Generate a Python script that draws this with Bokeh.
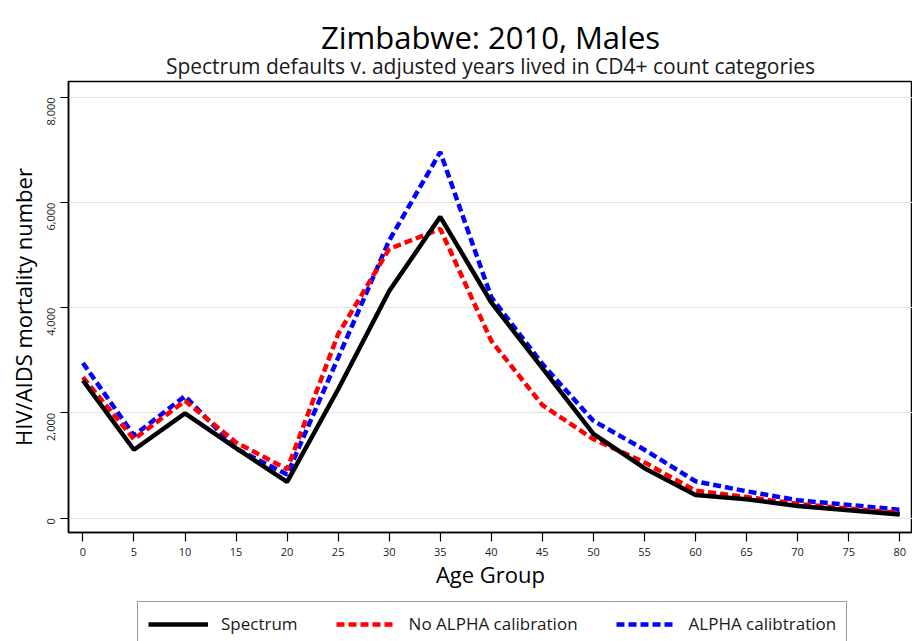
from bokeh.plotting import figure
from bokeh.layouts import column
from bokeh.models import (Range1d, FixedTicker, NumeralTickFormatter, Legend,
                          LegendItem, Title)
from bokeh.embed import file_html
from bokeh.resources import INLINE
import math

ages = [0, 5, 10, 15, 20, 25, 30, 35, 40, 45, 50, 55, 60, 65, 70, 75, 80]
spectrum = [2620, 1300, 1990, 1330, 690, 2450, 4320, 5730, 4100, 2850, 1600, 950, 440, 360, 230, 150, 70]
no_alpha = [2680, 1500, 2230, 1440, 930, 3500, 5120, 5500, 3370, 2150, 1500, 1060, 520, 400, 270, 180, 100]
alpha = [2950, 1570, 2320, 1320, 830, 3050, 5280, 6960, 4200, 2930, 1850, 1300, 700, 510, 340, 250, 160]
y_ticks = [0, 2000, 4000, 6000, 8000]
series_names = ["Spectrum", "No ALPHA calibration", "ALPHA calibtration"]

FONT = "Open Sans"

p = figure(width=912, height=600, output_backend="svg", toolbar_location=None,
           x_range=Range1d(-1.41, 81.25), y_range=Range1d(-274, 8303),
           min_border_left=68, min_border_right=0, min_border_top=81,
           min_border_bottom=68)

p.outline_line_color = "black"
p.outline_line_width = 1.5
p.background_fill_color = "white"
p.border_fill_color = "white"

# titles
sub = Title(text="Spectrum defaults v. adjusted years lived in CD4+ count categories",
            align="center", text_font=FONT, text_font_size="21px",
            text_font_style="normal", text_color="#1a1a1a", standoff=4)
main = Title(text="Zimbabwe: 2010, Males", align="center", text_font=FONT,
             text_font_size="31px", text_font_style="normal", text_color="black",
             standoff=-21)
p.add_layout(sub, "above")
p.add_layout(main, "above")

# axes
p.xaxis.ticker = FixedTicker(ticks=ages)
p.yaxis.ticker = FixedTicker(ticks=y_ticks)
p.yaxis.formatter = NumeralTickFormatter(format="0,0")
p.yaxis.major_label_orientation = math.pi / 2
for ax in (p.xaxis[0], p.yaxis[0]):
    ax.axis_line_color = "black"
    ax.axis_line_width = 1.5
    ax.major_tick_line_color = "black"
    ax.major_tick_line_width = 1.2
    ax.major_tick_out = 8
    ax.major_tick_in = 0
    ax.minor_tick_out = 0
    ax.minor_tick_in = 0
    ax.major_label_text_font = FONT
    ax.major_label_text_font_size = "11px"
    ax.major_label_text_color = "#222222"
    ax.axis_label_text_font = FONT
    ax.axis_label_text_font_style = "normal"
    ax.axis_label_text_color = "black"
p.xaxis.axis_label = "Age Group"
p.yaxis.axis_label = "HIV/AIDS mortality number"
p.xaxis.axis_label_text_font_size = "22px"
p.yaxis.axis_label_text_font_size = "22px"
p.xaxis.major_tick_out = 9
p.xaxis.major_label_standoff = 6
p.yaxis.major_label_standoff = 9
p.xaxis.axis_label_standoff = 0
p.yaxis.axis_label_standoff = 3

p.xgrid.visible = False
p.ygrid.ticker = FixedTicker(ticks=y_ticks)
p.ygrid.grid_line_color = "#e3e3e3"
p.ygrid.grid_line_width = 1.2

styles = [dict(line_color="black", line_width=4.5),
          dict(line_color="#ff0000", line_width=4.5, line_dash="8 4"),
          dict(line_color="#0000ff", line_width=4.5, line_dash="8 4")]

r_spec = p.line(ages, spectrum, **styles[0])
r_no = p.line(ages, no_alpha, **styles[1])
r_al = p.line(ages, alpha, **styles[2])
p.renderers = [r_al, r_no, r_spec]

# legend strip below the chart (its ranges keep the sample lines out of view)
lg = figure(width=912, height=41, output_backend="svg", toolbar_location=None,
            x_range=Range1d(1000, 1001), y_range=Range1d(1000, 1001),
            min_border_left=68, min_border_right=0, min_border_top=0,
            min_border_bottom=0)
lg.axis.visible = False
lg.grid.visible = False
lg.outline_line_color = None
lg.border_fill_color = "white"
samples = [lg.line(ages, vals, **s)
           for vals, s in zip([spectrum, no_alpha, alpha], styles)]

legend = Legend(items=[LegendItem(label=n, renderers=[r])
                       for n, r in zip(series_names, samples)],
                orientation="horizontal", location=(69, -5),
                label_text_font=FONT, label_text_font_size="17px",
                label_text_color="#1a1a1a",
                glyph_width=60, glyph_height=22, label_standoff=13,
                spacing=38, padding=10, margin=0,
                border_line_color="#333333", border_line_width=1.2)
lg.add_layout(legend, "center")

layout = column(p, lg, spacing=0)
open("out.html", "w").write(file_html(layout, INLINE))
